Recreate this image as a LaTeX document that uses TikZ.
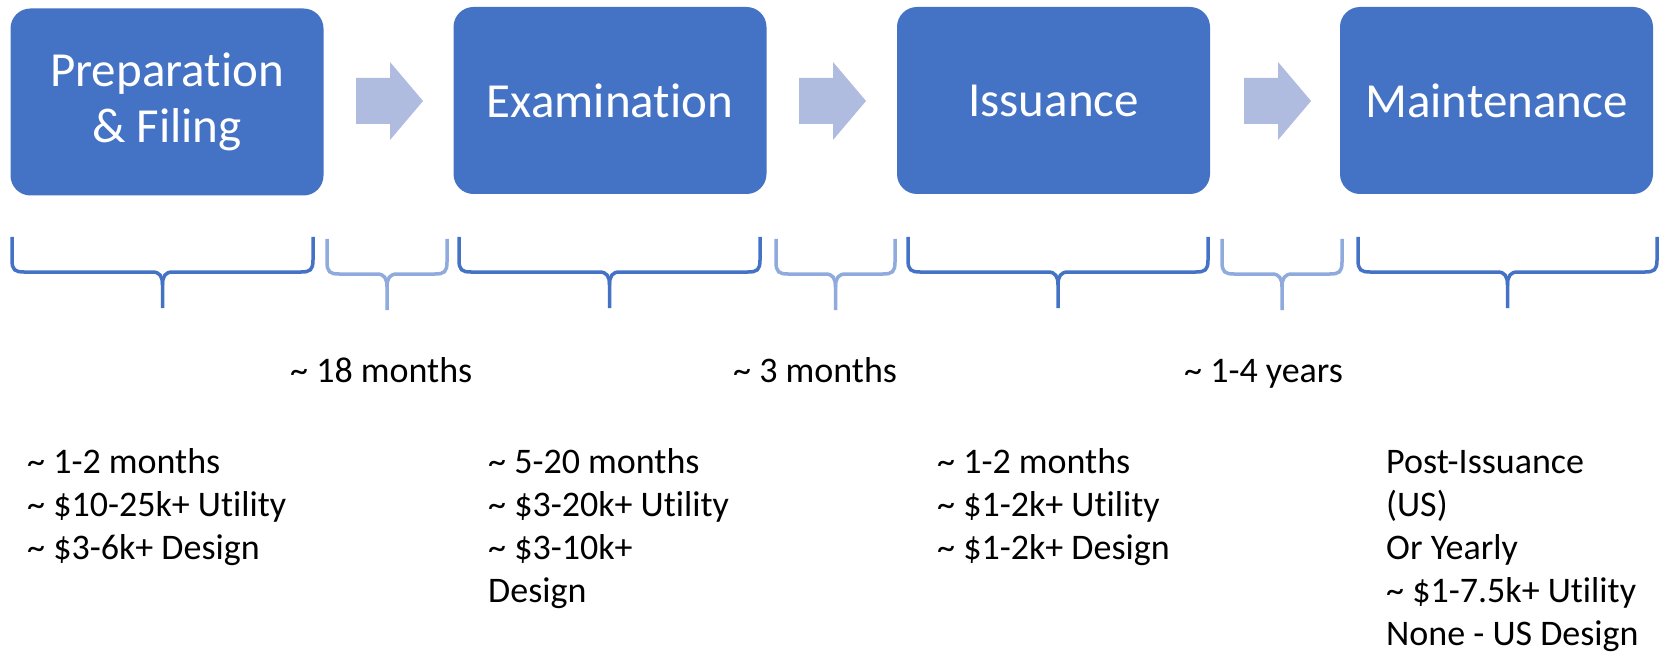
\documentclass[tikz,border=0pt]{standalone}
\usepackage{fontspec}
\setmainfont{Carlito}[Ligatures=NoCommon]
\definecolor{boxblue}{RGB}{68,114,196}
\definecolor{arrowblue}{RGB}{175,187,223}
\definecolor{lightbrace}{RGB}{143,170,220}
\newcommand\mybrace[6]{%
  \draw[#1] (#2,#4) -- (#2,{#5-12}) .. controls (#2,{#5-2}) and ({#2+3},#5) .. ({#2+12},#5)
    -- ({(#2+#3)/2-10},#5) .. controls ({(#2+#3)/2-3},#5) and ({(#2+#3)/2},{#5+4}) .. ({(#2+#3)/2},{#5+13})
    -- ({(#2+#3)/2},#6);
  \draw[#1] ({(#2+#3)/2},{#5+13}) .. controls ({(#2+#3)/2},{#5+4}) and ({(#2+#3)/2+3},#5) .. ({(#2+#3)/2+10},#5)
    -- ({#3-12},#5) .. controls ({#3-3},#5) and (#3,{#5-2}) .. (#3,{#5-12}) -- (#3,#4);
}
\newcommand\myarrow[1]{%
  \fill[arrowblue] (#1,78) -- ({#1+34},78) -- ({#1+34},62) -- ({#1+67},101) -- ({#1+34},140) -- ({#1+34},124) -- (#1,124) -- cycle;
}
\begin{document}
\begin{tikzpicture}[x=1pt,y=-1pt,
  stage/.style={fill=boxblue, rounded corners=20pt, minimum width=313pt, minimum height=187pt,
    text=white, align=center, font=\fontsize{49}{56}\selectfont, inner sep=0pt},
  info/.style={anchor=base west, inner sep=0pt, text=black, font=\fontsize{36}{43}\selectfont},
  darkb/.style={draw=boxblue, line width=3.5pt},
  lightb/.style={draw=lightbrace, line width=3.5pt}]
\useasboundingbox (0,0) rectangle (1661,652);
\fill[white] (0,0) rectangle (1661,652);
% stage boxes
\node[stage] (prep) at (167,102) {Preparation\\\& Filing};
\node[stage] (exam) at (610,100.5) {Examination};
\node[stage] (issu) at (1053.5,100.5) {Issuance};
\node[stage] (main) at (1496.5,100.5) {Maintenance};
% arrows
\myarrow{356}
\myarrow{799}
\myarrow{1244}
% braces
\mybrace{darkb}{12}{313}{237}{272}{308}
\mybrace{lightb}{327}{447}{239}{274}{310}
\mybrace{darkb}{459}{760}{237}{272}{308}
\mybrace{lightb}{776}{895}{239}{274}{310}
\mybrace{darkb}{908}{1208}{237}{272}{308}
\mybrace{lightb}{1222}{1342}{239}{274}{310}
\mybrace{darkb}{1358}{1657}{237}{272}{308}
% durations
\node[info] (d1) at (290,382) {\textasciitilde{} 18 months};
\node[info] (d2) at (733,382) {\textasciitilde{} 3 months};
\node[info] (d3) at (1184,382) {\textasciitilde{} 1-4 years};
% details
\node[info] (t1) at (27,473) {\begin{tabular}[t]{@{}l@{}}\textasciitilde{} 1-2 months\\\textasciitilde{} \$10-25k+ Utility\\\textasciitilde{} \$3-6k+ Design\end{tabular}};
\node[info] (t2) at (488,473) {\begin{tabular}[t]{@{}l@{}}\textasciitilde{} 5-20 months\\\textasciitilde{} \$3-20k+ Utility\\\textasciitilde{} \$3-10k+\\Design\end{tabular}};
\node[info] (t3) at (937,473) {\begin{tabular}[t]{@{}l@{}}\textasciitilde{} 1-2 months\\\textasciitilde{} \$1-2k+ Utility\\\textasciitilde{} \$1-2k+ Design\end{tabular}};
\node[info] (t4) at (1386,473) {\begin{tabular}[t]{@{}l@{}}Post-Issuance\\(US)\\Or Yearly\\\textasciitilde{} \$1-7.5k+ Utility\\None - US Design\end{tabular}};
\end{tikzpicture}
\end{document}
